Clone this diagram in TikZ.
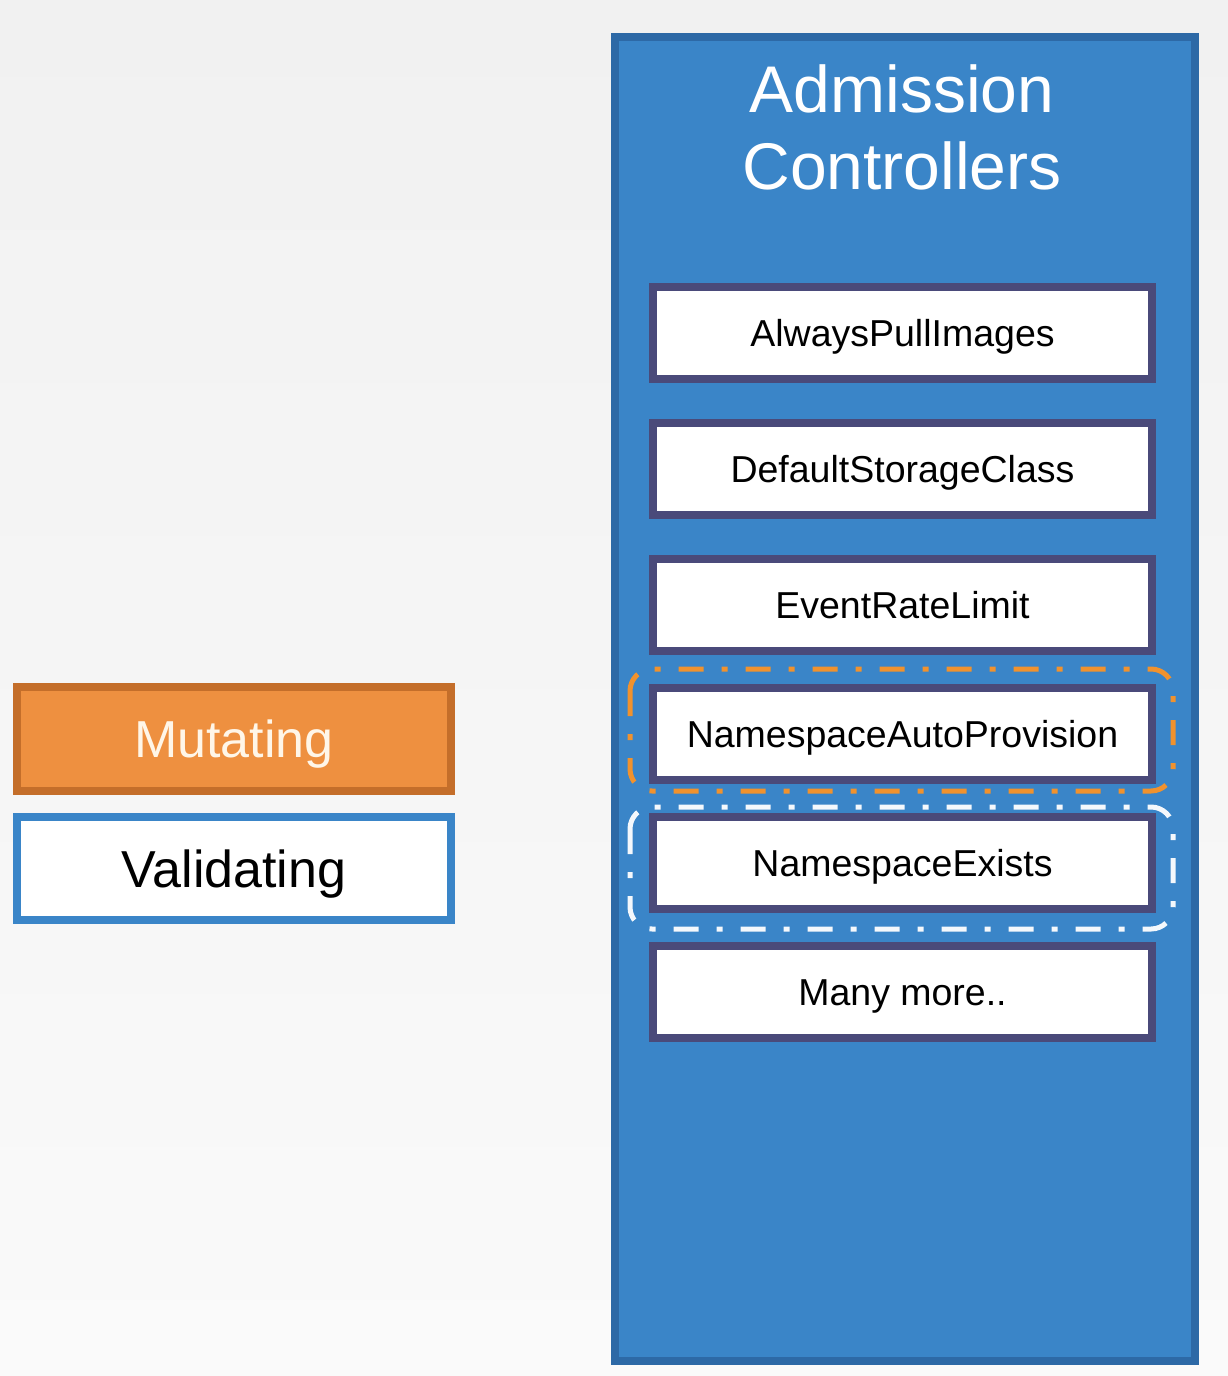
\documentclass[tikz,border=0pt]{standalone}
\usepackage{fontspec}
\setmainfont{Liberation Sans}
\begin{document}
\begin{tikzpicture}[x=1pt,y=-1pt,
  ctrlbox/.style={draw=ctrlborder,line width=8pt,fill=white,minimum width=499pt,minimum height=92pt,inner sep=0pt,font=\fontsize{37.5}{42}\selectfont,text=black,text height=26.9pt,text depth=0pt},
  kindbox/.style={line width=8pt,minimum width=434pt,minimum height=104pt,inner sep=0pt,font=\fontsize{52}{60}\selectfont,anchor=north west,text height=37.2pt,text depth=0pt},
  groupline/.style={line width=5pt,rounded corners=22pt,dash pattern=on 25pt off 18pt on 6pt off 18pt}]
\definecolor{bgtop}{HTML}{F1F1F1}
\definecolor{bgbot}{HTML}{FAFAFA}
\definecolor{panelfill}{HTML}{3A85C8}
\definecolor{paneledge}{HTML}{2D69A6}
\definecolor{ctrlborder}{HTML}{4A4A7A}
\definecolor{mutfill}{HTML}{EE9040}
\definecolor{mutedge}{HTML}{C46E2A}
\definecolor{muttext}{HTML}{FFF6E8}
\definecolor{grouporange}{HTML}{F0922E}
\definecolor{groupwhite}{HTML}{F4F8FC}
% page background
\shade[top color=bgtop,bottom color=bgbot] (0,0) rectangle (1228,1376);
\useasboundingbox (0,0) rectangle (1228,1376);
% admission controllers panel
\node[draw=paneledge,fill=panelfill,line width=8pt,minimum width=580pt,minimum height=1324pt,inner sep=0pt,anchor=north west] (panel) at (611,33) {};
\node[text=white,font=\fontsize{66}{77}\selectfont,align=center,anchor=north] (title) at (902,61) {Admission\\Controllers};
% controller entries
\node[ctrlbox] (api) at (902.5,333) {AlwaysPullImages};
\node[ctrlbox] (dsc) at (902.5,469) {DefaultStorageClass};
\node[ctrlbox] (erl) at (902.5,605) {EventRateLimit};
\node[ctrlbox] (nap) at (902.5,734) {NamespaceAutoProvision};
\node[ctrlbox] (nse) at (902.5,863) {NamespaceExists};
\node[ctrlbox] (more) at (902.5,992) {Many more..};
% group outlines
\draw[groupline,draw=grouporange] (630,669) rectangle (1173,791);
\draw[groupline,draw=groupwhite] (630,807) rectangle (1173,929);
% legend
\node[kindbox,draw=mutedge,fill=mutfill,text=muttext] (mut) at (13,683) {Mutating};
\node[kindbox,draw=panelfill,fill=white,text=black,minimum height=103pt] (val) at (13,813) {Validating};
\end{tikzpicture}
\end{document}
